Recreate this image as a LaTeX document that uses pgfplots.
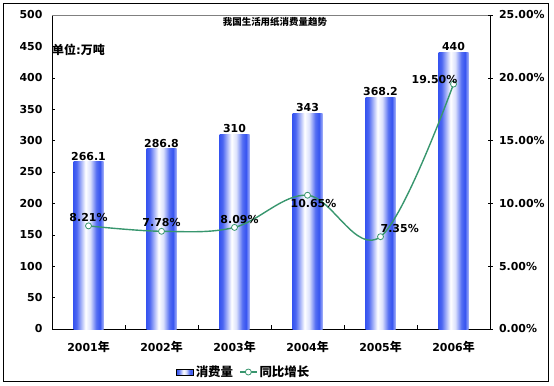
\documentclass[border=0pt]{standalone}
\usepackage{pgfplots}
\pgfplotsset{compat=1.18}
\usepackage{fontspec}
\setmainfont{DejaVu Sans}
\newfontfamily\cjk{Noto Sans CJK SC}
\definecolor{bb}{RGB}{55,85,240}
\definecolor{lg}{RGB}{56,150,110}
\pgfdeclarehorizontalshading{barshade}{100bp}{color(0bp)=(bb); color(25bp)=(bb); color(30bp)=(bb!90); color(45bp)=(white); color(53bp)=(bb!18); color(63bp)=(bb!85); color(69bp)=(bb); color(75bp)=(bb!45); color(100bp)=(bb!45)}
\newcommand\yr[1]{#1{\cjk\fontsize{12}{13}\selectfont 年}}
\newcommand\numfont{\bfseries\fontsize{11}{12}\selectfont}
\pgfplotsset{pctlab/.style={draw=none, mark=none, forget plot, point meta=y,
  nodes near coords={\pgfmathprintnumber[fixed,fixed zerofill,precision=2]{\pgfplotspointmeta}\%},
  nodes near coords style={font=\numfont, black, inner sep=1bp, #1}},
  cylbar/.style={ybar, bar width=30bp, bar shift=0pt, draw=none, shade, shading=barshade,
  nodes near coords={\pgfmathprintnumber{\pgfplotspointmeta}},
  nodes near coords style={font=\numfont, black, inner sep=1.5bp}}}
\begin{document}
\begin{tikzpicture}[x=1bp,y=1bp]
\useasboundingbox (0,0) rectangle (554,385);
\draw[line width=1bp] (3.5,3.5) rectangle (548,381.5);
\begin{axis}[at={(52bp,56bp)}, anchor=south west, scale only axis,
  width=438bp, height=314bp,
  xmin=-0.5, xmax=5.5, ymin=0, ymax=500, ytick={0,50,...,500},
  axis x line*=bottom, axis y line*=left,
  axis line style={-, line width=0.8bp},
  xtick={0,...,5},
  xticklabels={\yr{2001},\yr{2002},\yr{2003},\yr{2004},\yr{2005},\yr{2006}},
  major x tick style={draw=none},
  minor xtick={0.5,1.5,...,4.5},
  minor tick length=4bp, major tick length=3bp,
  tick align=inside,
  tick style={black, line width=0.6bp},
  /pgf/number format/assume math mode=true,
  ticklabel style={font=\numfont},
  yticklabel style={xshift=-6bp},
  xticklabel style={yshift=-9bp},
  clip=false,
  ]
\addplot[cylbar] coordinates {(0,266.1)};
\addplot[cylbar] coordinates {(1,286.8)};
\addplot[cylbar] coordinates {(2,310)};
\addplot[cylbar] coordinates {(3,343)};
\addplot[cylbar] coordinates {(4,368.2)};
\addplot[cylbar] coordinates {(5,440)};
\draw[gray, line width=0.8bp] (rel axis cs:0,1) -- (rel axis cs:1,1);
\node[anchor=west, inner sep=0pt, font=\bfseries\fontsize{12}{13}\selectfont] at (rel axis cs:0,0.889) {{\cjk 单位}:{\cjk 万吨}};
\node[inner sep=0pt, font=\bfseries\fontsize{9.5}{10}\selectfont] at (rel axis cs:0.509,0.978) {\cjk 我国生活用纸消费量趋势};
\end{axis}
\begin{axis}[at={(52bp,56bp)}, anchor=south west, scale only axis,
  width=438bp, height=314bp,
  xmin=-0.5, xmax=5.5, ymin=0, ymax=25, ytick={0,5,...,25},
  axis x line=none, axis y line*=right,
  axis line style={-, line width=0.8bp},
  tick align=center, major tick length=5bp,
  tick style={black, line width=0.6bp},
  /pgf/number format/assume math mode=true,
  yticklabel={\pgfmathprintnumber[fixed,fixed zerofill,precision=2]{\tick}\%},
  ticklabel style={font=\numfont},
  yticklabel style={xshift=3bp},
  clip=false,
  legend style={at={(0.438,-0.137)}, anchor=center, draw=none, fill=none,
    legend columns=2, font=\bfseries\fontsize{12.5}{13}\selectfont,
    /tikz/every even column/.append style={column sep=4bp},
    inner sep=0pt},
  legend cell align=left,
  ]
\addlegendimage{area legend, draw=none, shade, shading=barshade}
\addlegendentry{\cjk 消费量}
\addplot[lg, line width=1.4bp, smooth, tension=0.6, mark=*,
  mark options={fill=white, draw=lg, line width=0.8bp}, mark size=3bp]
  coordinates {(0,8.21) (1,7.78) (2,8.09) (3,10.65) (4,7.35) (5,19.50)};
\addlegendentry{\cjk 同比增长}
\addplot[pctlab={anchor=south, yshift=3bp}] coordinates {(0,8.21) (1,7.78)};
\addplot[pctlab={anchor=south, yshift=3bp, xshift=5bp}] coordinates {(2,8.09)};
\addplot[pctlab={anchor=north, yshift=-3bp, xshift=6bp}] coordinates {(3,10.65)};
\addplot[pctlab={anchor=south west, yshift=3bp, xshift=-1bp}] coordinates {(4,7.35)};
\addplot[pctlab={anchor=south east, yshift=-1bp, xshift=5bp}] coordinates {(5,19.50)};
\end{axis}
\end{tikzpicture}
\end{document}
